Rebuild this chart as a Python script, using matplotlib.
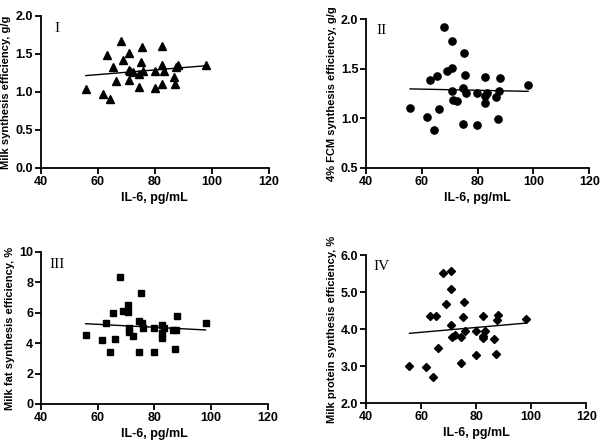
import numpy as np
import matplotlib
matplotlib.use("Agg")
import matplotlib.pyplot as plt

plt.rcParams.update({"font.family": "Liberation Sans", "font.weight": "bold",
                     "axes.linewidth": 1.3, "xtick.major.width": 1.3, "ytick.major.width": 1.3,
                     "xtick.major.size": 4, "ytick.major.size": 4})

# IL-6 (shared x for all four panels)
il6 = [55.8, 61.7, 63.1, 64.4, 65.3, 66.3, 68.1, 69.0, 70.8, 70.9, 71.0, 71.2, 72.5, 74.6, 74.6,
       75.2, 75.6, 75.9, 79.9, 79.9, 82.6, 82.6, 82.6, 83.4, 86.6, 87.2, 87.6, 88.1, 98.1]

milk_eff = [1.04, 0.97, 1.48, 0.91, 1.33, 1.14, 1.67, 1.42, 1.51, 1.16, 1.29, 1.27, 1.26, 1.23, 1.06,
            1.40, 1.59, 1.27, 1.27, 1.05, 1.60, 1.35, 1.10, 1.27, 1.20, 1.11, 1.33, 1.35, 1.35]
fcm_eff = [1.10, 1.01, 1.39, 0.88, 1.43, 1.09, 1.92, 1.48, 1.78, 1.51, 1.28, 1.18, 1.17, 1.31, 0.94,
           1.66, 1.44, 1.25, 1.25, 0.93, 1.42, 1.22, 1.15, 1.25, 1.21, 0.99, 1.27, 1.41, 1.34]
fat_eff = [4.54, 4.19, 5.33, 3.41, 5.99, 4.25, 8.37, 6.12, 6.52, 6.06, 5.02, 4.76, 4.45, 5.46, 3.44,
           7.33, 5.35, 4.98, 4.98, 3.41, 5.18, 4.67, 4.34, 4.98, 4.85, 3.61, 4.89, 5.81, 5.33]
prot_eff = [3.01, 2.98, 4.36, 2.71, 4.36, 3.48, 5.51, 4.69, 5.58, 5.07, 4.11, 3.78, 3.83, 3.78, 3.08,
            4.32, 4.74, 3.95, 3.94, 3.30, 4.36, 3.82, 3.76, 3.94, 3.72, 3.32, 4.24, 4.37, 4.26]

panels = [
    # y data, marker, ylabel, ylim, yticks, tag, axes rect, tick format
    (milk_eff, "^", "Milk synthesis efficiency, g/g", (0, 2.0), [0.0, 0.5, 1.0, 1.5, 2.0], "I",
     [0.068, 0.620, 0.380, 0.344], "%.1f"),
    (fcm_eff, "o", "4% FCM synthesis efficiency, g/g", (0.5, 2.0), [0.5, 1.0, 1.5, 2.0], "II",
     [0.610, 0.620, 0.372, 0.337], "%.1f"),
    (fat_eff, "s", "Milk fat synthesis efficiency, %", (0, 10), [0, 2, 4, 6, 8, 10], "III",
     [0.068, 0.086, 0.378, 0.344], "%d"),
    (prot_eff, "D", "Milk protein synthesis efficiency, %", (2.0, 6.0), [2.0, 3.0, 4.0, 5.0, 6.0], "IV",
     [0.610, 0.088, 0.367, 0.335], "%.1f"),
]
msize = {"^": 5.2, "o": 5.2, "s": 5.0, "D": 4.5}

fig = plt.figure(figsize=(6, 4.42), dpi=100)
x = np.array(il6)
for y, mk, ylab, ylim, yt, tag, rect, fmt in panels:
    ax = fig.add_axes(rect)
    ax.plot(x, y, ls="none", marker=mk, ms=msize[mk], color="black", clip_on=False)
    b, a = np.polyfit(x, y, 1)
    xs = np.array([x.min(), x.max()])
    ax.plot(xs, a + b * xs, color="black", lw=1.0)
    ax.set_xlim(40, 120); ax.set_ylim(*ylim)
    ax.set_xticks([40, 60, 80, 100, 120]); ax.set_yticks(yt)
    ax.yaxis.set_major_formatter(matplotlib.ticker.FormatStrFormatter(fmt))
    ax.tick_params(labelsize=9, pad=1.5)
    for s in ["top", "right"]: ax.spines[s].set_visible(False)
    ax.set_xlabel("IL-6, pg/mL", fontsize=9, fontweight="bold", labelpad=3)
    ax.set_ylabel(ylab, fontsize=8, fontweight="bold", labelpad=3)
    ax.text(0.07, 0.92, tag, transform=ax.transAxes, ha="center", va="center",
            family="Liberation Serif", fontweight="normal", fontsize=11)

fig.savefig("out.png", dpi=100)
